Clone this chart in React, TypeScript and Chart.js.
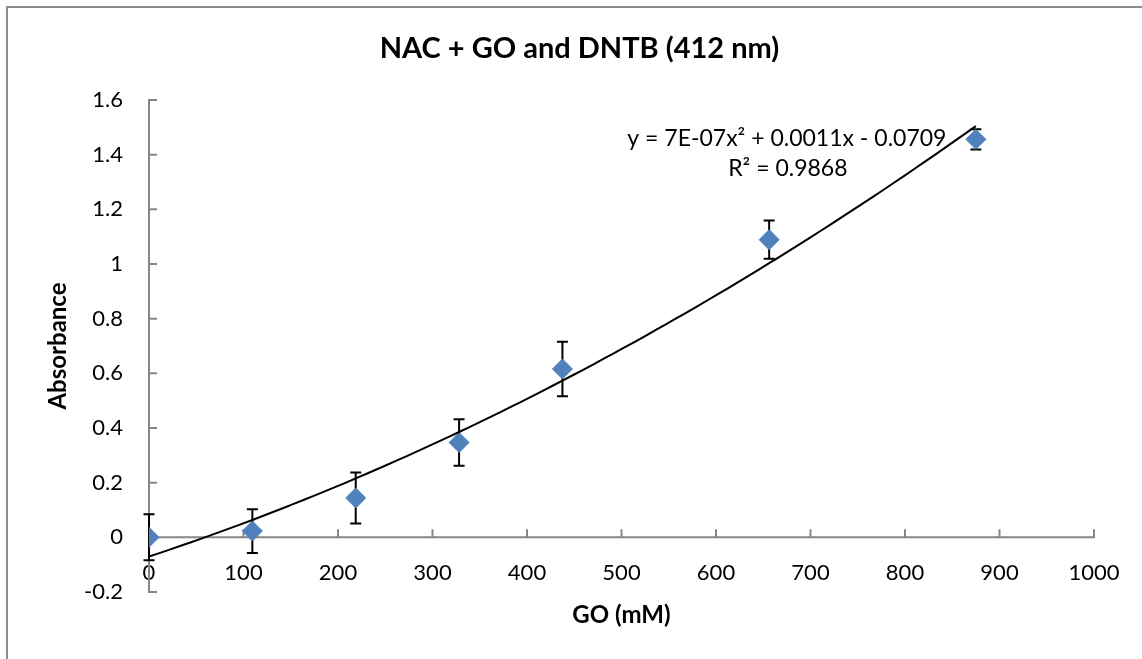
import React, { useEffect, useRef } from "react";
import { Chart, registerables } from "chart.js";

Chart.register(...registerables);

// ---- Data ----
const GO_MM = [0, 109.375, 218.75, 328.125, 437.5, 656.25, 875];
const ABSORBANCE = [0, 0.023, 0.144, 0.347, 0.616, 1.089, 1.456];
const ABS_ERROR = [0.084, 0.08, 0.093, 0.085, 0.1, 0.07, 0.037];

const X_TICKS = [0, 100, 200, 300, 400, 500, 600, 700, 800, 900, 1000];
const Y_TICKS = [-0.2, 0, 0.2, 0.4, 0.6, 0.8, 1, 1.2, 1.4, 1.6];

const TITLE = "NAC + GO and DNTB (412 nm)";
const X_TITLE = "GO (mM)";
const Y_TITLE = "Absorbance";
const EQUATION = "y = 7E-07x\u00B2 + 0.0011x - 0.0709";
const R_SQUARED = "R\u00B2 = 0.9868";

const FONT = "Lato";
const MARKER = "#4F81BD";
const AXIS = "#868686";

// Second-order least-squares trendline, computed from the data (as Excel does)
function polyFit2(xs: number[], ys: number[]) {
  const s = [0, 0, 0, 0, 0];
  const t = [0, 0, 0];
  for (let i = 0; i < xs.length; i++) {
    let p = 1;
    for (let k = 0; k < 5; k++) {
      s[k] += p;
      if (k < 3) t[k] += p * ys[i];
      p *= xs[i];
    }
  }
  const m = [
    [s[0], s[1], s[2], t[0]],
    [s[1], s[2], s[3], t[1]],
    [s[2], s[3], s[4], t[2]],
  ];
  for (let c = 0; c < 3; c++) {
    for (let r = c + 1; r < 3; r++) {
      const f = m[r][c] / m[c][c];
      for (let k = c; k < 4; k++) m[r][k] -= f * m[c][k];
    }
  }
  const sol = [0, 0, 0];
  for (let r = 2; r >= 0; r--) {
    let v = m[r][3];
    for (let k = r + 1; k < 3; k++) v -= m[r][k] * sol[k];
    sol[r] = v / m[r][r];
  }
  return sol; // [c0, c1, c2]
}

const excelPlugin = {
  id: "excelLook",
  beforeDraw(chart: any) {
    const ctx = chart.ctx;
    ctx.save();
    ctx.strokeStyle = "#8c8c8c";
    ctx.lineWidth = 2;
    ctx.strokeRect(7, 7, chart.width + 40, chart.height + 40);
    ctx.restore();
  },
  beforeDatasetsDraw(chart: any) {
    const { ctx } = chart;
    const xs = chart.scales.x;
    const ys = chart.scales.y;
    const x0 = xs.getPixelForValue(0);
    const y0 = ys.getPixelForValue(0);
    ctx.save();
    ctx.strokeStyle = AXIS;
    ctx.lineWidth = 2;
    ctx.beginPath();
    ctx.moveTo(x0, ys.getPixelForValue(Y_TICKS[Y_TICKS.length - 1]));
    ctx.lineTo(x0, ys.getPixelForValue(Y_TICKS[0]));
    Y_TICKS.forEach((v) => {
      const py = ys.getPixelForValue(v);
      ctx.moveTo(x0 - 1, py);
      ctx.lineTo(x0 + 8, py);
    });
    ctx.moveTo(xs.getPixelForValue(X_TICKS[0]), y0);
    ctx.lineTo(xs.getPixelForValue(X_TICKS[X_TICKS.length - 1]), y0);
    X_TICKS.forEach((v) => {
      const px = xs.getPixelForValue(v);
      ctx.moveTo(px, y0 + 1);
      ctx.lineTo(px, y0 - 8);
    });
    ctx.stroke();

    // error bars
    ctx.strokeStyle = "#000";
    ctx.lineWidth = 2;
    ctx.beginPath();
    GO_MM.forEach((gx, i) => {
      const px = xs.getPixelForValue(gx);
      const top = ys.getPixelForValue(ABSORBANCE[i] + ABS_ERROR[i]);
      const bot = ys.getPixelForValue(ABSORBANCE[i] - ABS_ERROR[i]);
      ctx.moveTo(px, top);
      ctx.lineTo(px, bot);
      ctx.moveTo(px - 5.5, top);
      ctx.lineTo(px + 5.5, top);
      ctx.moveTo(px - 5.5, bot);
      ctx.lineTo(px + 5.5, bot);
    });
    ctx.stroke();
    ctx.restore();
  },
  afterDatasetsDraw(chart: any) {
    const { ctx } = chart;
    const xs = chart.scales.x;
    const ys = chart.scales.y;
    const cx = xs.getPixelForValue(675);
    const cy = ys.getPixelForValue(1.46);
    ctx.save();
    ctx.fillStyle = "#000";
    ctx.font = `23px ${FONT}`;
    ctx.textAlign = "center";
    ctx.textBaseline = "middle";
    ctx.fillText(EQUATION, cx, cy);
    ctx.fillText(R_SQUARED, cx + 1, cy + 30);
    ctx.restore();
  },
};

export default function App() {
  const canvasRef = useRef<HTMLCanvasElement | null>(null);

  useEffect(() => {
    if (!canvasRef.current) return;
    const [c0, c1, c2] = polyFit2(GO_MM, ABSORBANCE);
    const xMin = Math.min(...GO_MM);
    const xMax = Math.max(...GO_MM);
    const N = 80;
    const trend = Array.from({ length: N + 1 }, (_, i) => {
      const x = xMin + ((xMax - xMin) * i) / N;
      return { x, y: c0 + c1 * x + c2 * x * x };
    });

    const tickFont = { family: FONT, size: 22 };
    const titleFont = { family: FONT, size: 24, weight: "bold" as const };

    const chart = new Chart(canvasRef.current, {
      type: "scatter",
      data: {
        datasets: [
          {
            type: "line",
            label: "Poly. trend",
            data: trend,
            borderColor: "#000",
            borderWidth: 2,
            pointRadius: 0,
            fill: false,
            tension: 0,
            order: 0,
          } as any,
          {
            type: "scatter",
            label: "Absorbance",
            data: GO_MM.map((x, i) => ({ x, y: ABSORBANCE[i] })),
            pointStyle: "rectRot",
            pointRadius: 10,
            backgroundColor: MARKER,
            borderColor: MARKER,
            borderWidth: 1,
            order: 1,
          },
        ],
      },
      options: {
        animation: false,
        responsive: false,
        events: [],
        layout: { padding: { left: 17, right: 0, top: 0, bottom: 0 } },
        plugins: {
          legend: { display: false },
          tooltip: { enabled: false },
          title: {
            display: true,
            text: TITLE,
            color: "#000",
            font: { family: FONT, size: 29, weight: "bold" },
            padding: { top: 31.6, bottom: 33.6 },
          },
        },
        scales: {
          x: {
            type: "linear",
            position: { y: 0 } as any,
            min: 0,
            max: 1000,
            afterBuildTicks: (s: any) => {
              s.ticks = X_TICKS.map((value) => ({ value }));
            },
            afterFit: (s: any) => {
              s.height = 0;
            },
            grid: { display: false, drawTicks: false },
            border: { display: false },
            ticks: {
              color: "#000",
              font: tickFont,
              padding: 22,
              maxRotation: 0,
              autoSkip: false,
              callback: (v: any) => String(v),
            },
          },
          x2: {
            type: "linear",
            position: "bottom",
            min: 0,
            max: 1000,
            grid: { display: false, drawTicks: false },
            border: { display: false },
            ticks: { display: false },
            title: {
              display: true,
              text: X_TITLE,
              color: "#000",
              font: titleFont,
              padding: { top: 8.6, bottom: 29.6 },
            },
          },
          y: {
            type: "linear",
            position: "left",
            min: -0.2,
            max: 1.6,
            afterBuildTicks: (s: any) => {
              s.ticks = Y_TICKS.map((value) => ({ value }));
            },
            afterFit: (s: any) => {
              s.width = 132;
            },
            grid: { display: false, drawTicks: false },
            border: { display: false },
            ticks: {
              color: "#000",
              font: tickFont,
              padding: 26,
              autoSkip: false,
              callback: (v: any) => String(Math.round(Number(v) * 10) / 10),
            },
            title: {
              display: true,
              text: Y_TITLE,
              color: "#000",
              font: titleFont,
              padding: { top: 27, bottom: 0 },
            },
          },
          yRight: {
            type: "linear",
            position: "right",
            min: -0.2,
            max: 1.6,
            afterFit: (s: any) => {
              s.width = 48;
            },
            grid: { display: false, drawTicks: false },
            border: { display: false },
            ticks: { display: false },
          },
        },
      },
      plugins: [excelPlugin],
    });
    return () => chart.destroy();
  }, []);

  return (
    <canvas
      ref={canvasRef}
      width={1142}
      height={659}
      style={{ position: "fixed", left: 0, top: 0, display: "block", background: "#fff" }}
    />
  );
}
